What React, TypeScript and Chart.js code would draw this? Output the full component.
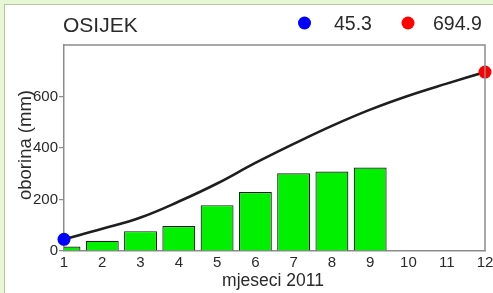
import React, { useEffect, useRef } from "react";
import { Chart, registerables } from "chart.js";

Chart.register(...registerables);

const months = [1, 2, 3, 4, 5, 6, 7, 8, 9, 10, 11, 12];
const barMonths = [1, 2, 3, 4, 5, 6, 7, 8, 9];
const barValues = [17, 40, 77, 97, 178, 229, 302, 309, 324];
const lineValues = [45.3, 86, 130, 192, 262, 342, 416, 486, 549, 603, 650, 694.9];
const yTicks = [0, 200, 400, 600];
const stationName = "OSIJEK";
const startValueLabel = "45.3";
const endValueLabel = "694.9";
const xTitle = "mjeseci 2011";
const yTitle = "oborina (mm)";

const FONT = "'Liberation Sans', Arial, Helvetica, sans-serif";
const TEXT = "#2a2a2a";
const AXIS = "#8c8c8c";

const decorPlugin = {
  id: "decor",
  afterDraw(chart: any) {
    const { ctx, chartArea } = chart;
    ctx.save();
    ctx.strokeStyle = AXIS;
    ctx.lineWidth = 1.5;
    ctx.beginPath();
    ctx.moveTo(chartArea.left, chartArea.top);
    ctx.lineTo(chartArea.right, chartArea.top);
    ctx.lineTo(chartArea.right, chartArea.bottom);
    ctx.stroke();

    ctx.fillStyle = TEXT;
    ctx.textBaseline = "alphabetic";
    ctx.textAlign = "left";
    ctx.font = `21px ${FONT}`;
    ctx.fillText(stationName, 63, 32);

    ctx.beginPath();
    ctx.fillStyle = "#0000ff";
    ctx.arc(304.5, 23, 6.5, 0, Math.PI * 2);
    ctx.fill();
    ctx.beginPath();
    ctx.fillStyle = "#ff0000";
    ctx.arc(408, 23, 6.5, 0, Math.PI * 2);
    ctx.fill();
    ctx.fillStyle = TEXT;
    ctx.font = `19.5px ${FONT}`;
    ctx.fillText(startValueLabel, 334, 30);
    ctx.fillText(endValueLabel, 433, 30);

    ctx.font = `17.5px ${FONT}`;
    ctx.textAlign = "center";
    ctx.fillText(xTitle, 273, 286);

    ctx.translate(26, 145);
    ctx.rotate(-Math.PI / 2);
    ctx.textBaseline = "middle";
    ctx.font = `18.5px ${FONT}`;
    ctx.fillText(yTitle, 0, 0);
    ctx.restore();
  },
};

export default function App() {
  const ref = useRef<HTMLCanvasElement | null>(null);

  useEffect(() => {
    document.body.style.margin = "0";
    const canvas = ref.current;
    if (!canvas) return;
    const chart = new Chart(canvas, {
      type: "bar",
      data: {
        datasets: [
          {
            type: "line",
            data: [
              { x: months[0], y: lineValues[0] },
              { x: months[months.length - 1], y: lineValues[lineValues.length - 1] },
            ],
            showLine: false,
            pointRadius: 6.5,
            pointBorderWidth: 0,
            pointBackgroundColor: ["#0000ff", "#ff0000"],
            clip: false,
          } as any,
          {
            type: "line",
            data: months.map((m, i) => ({ x: m, y: lineValues[i] })),
            borderColor: "#1e1e1e",
            borderWidth: 2.6,
            pointRadius: 0,
            tension: 0.4,
            fill: false,
          } as any,
          {
            type: "bar",
            data: barMonths.map((m, i) => ({ x: m, y: barValues[i] })),
            backgroundColor: "#00f000",
            borderColor: "#1c1c1c",
            borderWidth: 1.2,
            barPercentage: 0.86,
            categoryPercentage: 1,
          } as any,
        ],
      },
      options: {
        animation: false,
        responsive: false,
        events: [],
        layout: { padding: { left: 0, top: 45, right: 8, bottom: 0 } },
        plugins: { legend: { display: false }, tooltip: { enabled: false }, title: { display: false } },
        scales: {
          x: {
            type: "linear",
            min: 1,
            max: 12,
            offset: false,
            afterFit: (s: any) => {
              s.height = 42;
              s.paddingLeft = 0;
              s.paddingRight = 0;
            },
            ticks: {
              stepSize: 1,
              autoSkip: false,
              maxRotation: 0,
              padding: 3,
              color: TEXT,
              font: { family: FONT, size: 15 },
            },
            grid: { display: false, drawTicks: false },
            border: { display: true, color: AXIS, width: 1.5 },
          },
          y: {
            type: "linear",
            min: 0,
            max: 800,
            afterFit: (s: any) => {
              s.width = 64;
              s.paddingTop = 0;
              s.paddingBottom = 0;
            },
            afterBuildTicks: (s: any) => {
              s.ticks = yTicks.map((v) => ({ value: v }));
            },
            ticks: {
              padding: 1,
              color: TEXT,
              font: { family: FONT, size: 15 },
            },
            grid: {
              display: true,
              drawOnChartArea: false,
              drawTicks: true,
              tickLength: 5,
              color: AXIS,
              lineWidth: 1.2,
            },
            border: { display: true, color: AXIS, width: 1.5 },
          },
        },
      } as any,
      plugins: [decorPlugin],
    });
    return () => chart.destroy();
  }, []);

  return (
    <div
      style={{
        position: "fixed",
        left: 0,
        top: 0,
        width: 493,
        height: 293,
        background: "#e7f6d5",
        overflow: "hidden",
      }}
    >
      <div
        style={{
          position: "absolute",
          left: 4,
          top: 4,
          right: 0,
          bottom: 0,
          background: "#ffffff",
          borderTop: "1.5px solid #b4c6a4",
          borderLeft: "1.5px solid #b4c6a4",
        }}
      />
      <canvas
        ref={ref}
        width={493}
        height={293}
        style={{ position: "absolute", left: 0, top: 0, width: 493, height: 293 }}
      />
    </div>
  );
}
